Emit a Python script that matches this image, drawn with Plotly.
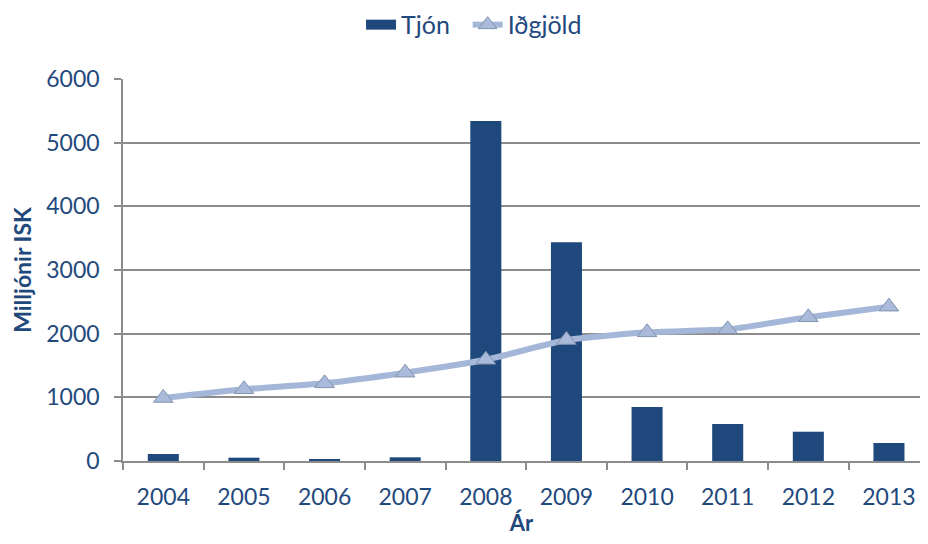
import plotly.graph_objects as go

years = ["2004", "2005", "2006", "2007", "2008", "2009", "2010", "2011", "2012", "2013"]
tjon = [110, 52, 32, 58, 5340, 3435, 848, 581, 460, 283]
idgjold = [990, 1126, 1220, 1387, 1590, 1900, 2021, 2068, 2257, 2424]

dark = "#1F497D"
font = "Lato"

fig = go.Figure()
fig.add_trace(go.Bar(
    x=years, y=tjon, name="Tjón", showlegend=False,
    marker=dict(color=dark, line=dict(width=0)),
    width=0.385,
))
# legend-only entry to show a wide bar swatch
fig.add_trace(go.Scatter(
    x=[None], y=[None], name="Tjón  ", mode="lines",
    line=dict(color=dark, width=14),
))
fig.add_trace(go.Scatter(
    x=years, y=idgjold, name="Iðgjöld", mode="lines+markers",
    line=dict(color="#A5B7D8", width=6, shape="spline", smoothing=0.5),
    marker=dict(symbol="triangle-up", size=17, color="#A9BADA",
                line=dict(color="#8393AE", width=1)),
))

fig.update_layout(
    width=912, height=528,
    margin=dict(l=115, r=0, t=71, b=75),
    paper_bgcolor="white", plot_bgcolor="white",
    font=dict(family=font, color=dark, size=22),
    showlegend=True,
    legend=dict(orientation="h", xref="container", x=0.511, xanchor="center",
                yref="container", y=0.968, yanchor="middle",
                font=dict(size=25, color=dark), traceorder="normal"),
    bargap=0.6,
)
fig.update_xaxes(
    type="category", range=[-0.5, 9.385], automargin=False,
    showline=True, linecolor="#8C8C8C", linewidth=1.5,
    ticks="outside", tickson="boundaries", ticklen=7, tickcolor="#8C8C8C", tickwidth=1.5,
    ticklabelstandoff=15,
    tickfont=dict(size=23, color=dark),
    title=dict(text="<b>Ár</b>", font=dict(size=22, color=dark), standoff=32),
    showgrid=False,
)
fig.update_yaxes(
    range=[0, 6000], dtick=1000, automargin=False,
    showline=True, linecolor="#8C8C8C", linewidth=1.5,
    ticks="outside", ticklen=7, tickcolor="#8C8C8C", tickwidth=1.5,
    ticklabelstandoff=10,
    showgrid=True, gridcolor="#8C8C8C", gridwidth=1.5,
    zeroline=False,
    tickfont=dict(size=23, color=dark),
    title=dict(text="<b>Milljónir ISK</b>", font=dict(size=23, color=dark), standoff=8),
)

fig.write_html("out.html")
